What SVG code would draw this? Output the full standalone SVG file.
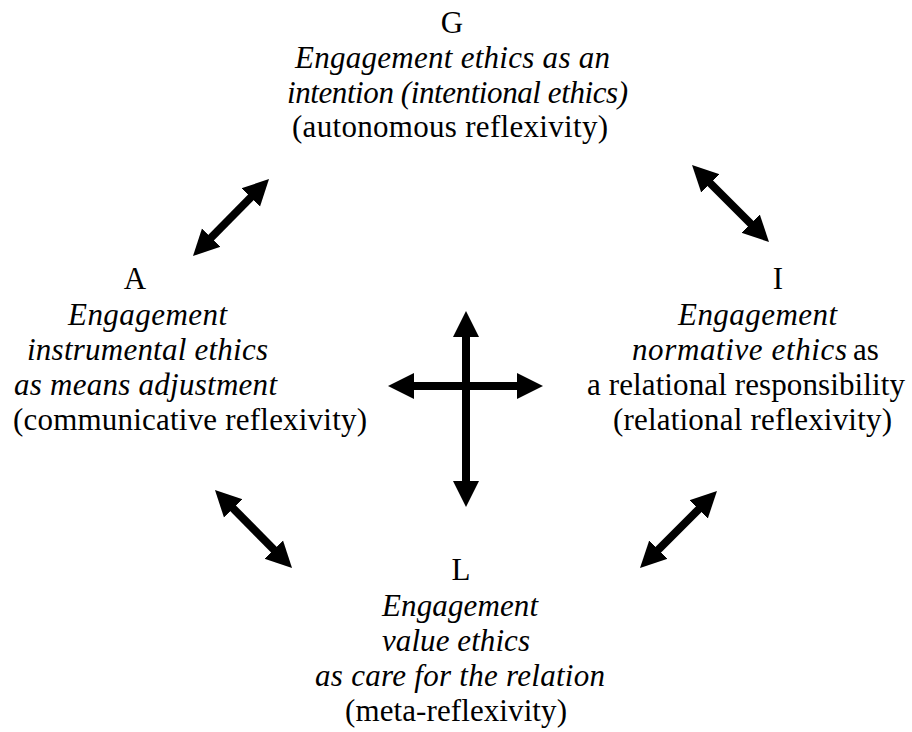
<svg xmlns="http://www.w3.org/2000/svg" width="912" height="732" viewBox="0 0 912 732">
  <defs>
    <marker id="head" markerUnits="userSpaceOnUse" markerWidth="30" markerHeight="30" viewBox="0 -15 30 30" refX="14" refY="0" orient="auto-start-reverse">
      <path d="M0,-13 L26,0 L0,13 z" fill="#000"/>
    </marker>
    <style>
      .t { font-family: 'Liberation Serif', Tinos, 'Times New Roman', serif; font-size: 31px; fill: #000; }
      .i { font-style: italic; }
      .arrow { stroke: #000; stroke-width: 8; fill: none; marker-start: url(#head); marker-end: url(#head); }
    </style>
  </defs>
  <rect width="912" height="732" fill="#fff"/>

  <!-- G: goal attainment -->
  <g id="node-G">
    <text class="t" x="452" y="33" text-anchor="middle">G</text>
    <text class="t i" x="295" y="68" textLength="315" lengthAdjust="spacing">Engagement ethics as an</text>
    <text class="t i" x="287" y="103" textLength="341" lengthAdjust="spacing">intention (intentional ethics)</text>
    <text class="t" x="292" y="137" textLength="316" lengthAdjust="spacing">(autonomous reflexivity)</text>
  </g>

  <!-- A: adaptation -->
  <g id="node-A">
    <text class="t" x="135" y="289" text-anchor="middle">A</text>
    <text class="t i" x="68" y="325" textLength="159" lengthAdjust="spacing">Engagement</text>
    <text class="t i" x="27" y="360" textLength="241" lengthAdjust="spacing">instrumental ethics</text>
    <text class="t i" x="14" y="395" textLength="263" lengthAdjust="spacing">as means adjustment</text>
    <text class="t" x="13" y="430" textLength="354" lengthAdjust="spacing">(communicative reflexivity)</text>
  </g>

  <!-- I: integration -->
  <g id="node-I">
    <text class="t" x="778" y="289" text-anchor="middle">I</text>
    <text class="t i" x="678" y="325" textLength="159" lengthAdjust="spacing">Engagement</text>
    <text class="t i" x="632" y="360" textLength="215" lengthAdjust="spacing">normative ethics</text>
    <text class="t" x="853" y="360">as</text>
    <text class="t" x="587" y="395" textLength="318" lengthAdjust="spacing">a relational responsibility</text>
    <text class="t" x="613" y="430" textLength="279" lengthAdjust="spacing">(relational reflexivity)</text>
  </g>

  <!-- L: latency -->
  <g id="node-L">
    <text class="t" x="461" y="580" text-anchor="middle">L</text>
    <text class="t i" x="382" y="616" textLength="156" lengthAdjust="spacing">Engagement</text>
    <text class="t i" x="382" y="651" textLength="148" lengthAdjust="spacing">value ethics</text>
    <text class="t i" x="315" y="686" textLength="290" lengthAdjust="spacing">as care for the relation</text>
    <text class="t" x="345" y="721" textLength="222" lengthAdjust="spacing">(meta-reflexivity)</text>
  </g>

  <!-- double-headed connectors -->
  <g id="connectors">
    <line class="arrow" x1="201.4" y1="247.5" x2="260.6" y2="187.5"/>
    <line class="arrow" x1="700.5" y1="173.5" x2="760.5" y2="233.5"/>
    <line class="arrow" x1="223.4" y1="498.5" x2="283.6" y2="559.5"/>
    <line class="arrow" x1="648.5" y1="559.5" x2="708.5" y2="499.5"/>
    <line class="arrow" x1="466" y1="323" x2="466" y2="495"/>
    <line class="arrow" x1="400" y1="386" x2="531" y2="386"/>
  </g>
</svg>
